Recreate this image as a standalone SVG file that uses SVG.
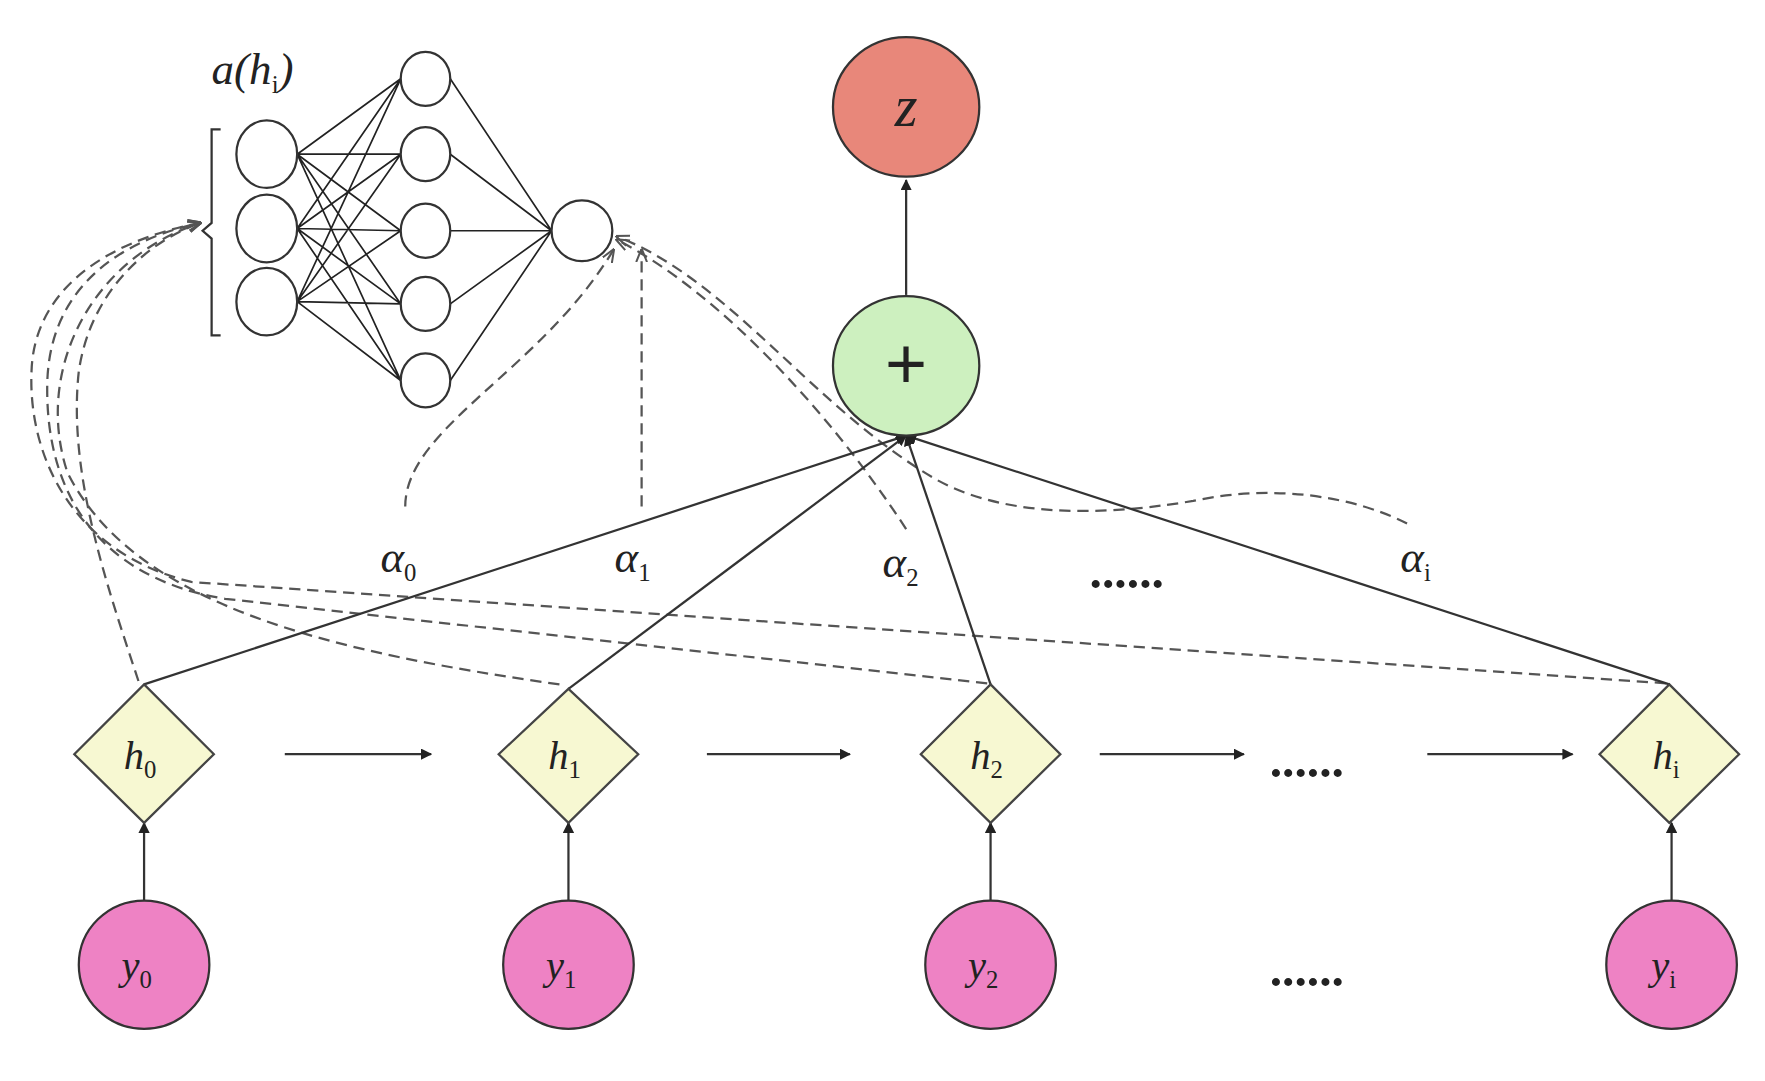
<svg xmlns="http://www.w3.org/2000/svg" width="1765" height="1081" viewBox="0 0 1765 1081">
<defs>
<marker id="ah" viewBox="0 0 10 10" refX="9" refY="5" markerWidth="5" markerHeight="5" orient="auto"><path d="M0,0L10,5L0,10z" fill="#222"/></marker>
<marker id="ad" viewBox="0 0 10 10" refX="9" refY="5" markerWidth="6" markerHeight="6" orient="auto"><path d="M0,1L10,5L0,9" fill="none" stroke="#555" stroke-width="1.5"/></marker>
</defs>
<style>
.n{fill:#fff;stroke:#333;stroke-width:2}
.w{stroke:#222;stroke-width:1.5;fill:none}
.s{stroke:#333;stroke-width:2;fill:none}
.d{stroke:#555;stroke-width:2;fill:none;stroke-dasharray:10 6}
.t{font-family:"Liberation Serif",serif;font-style:italic;fill:#222}
.sub{font-size:22px;font-style:normal}
.dia{fill:#f7f8d2;stroke:#444;stroke-width:2}
.y{fill:#ee82c4;stroke:#333;stroke-width:2}
.dots{font-family:"Liberation Serif",serif;font-size:44px;font-weight:bold;fill:#222}
</style>
<rect width="1765" height="1081" fill="#fff"/>
<g transform="scale(1.12564)">
<g id="connectors">
<g id="net-edges">
<path class="w" d="M264,137L356,70M264,137L356,137M264,137L356,205M264,137L356,270M264,137L356,338M264,203L356,70M264,203L356,137M264,203L356,205M264,203L356,270M264,203L356,338M264,268L356,70M264,268L356,137M264,268L356,205M264,268L356,270M264,268L356,338M400,70L490,205M400,137L490,205M400,205L490,205M400,270L490,205M400,338L490,205"/>
</g>
<path class="d" marker-end="url(#ad)" d="M123,605 C95,520 60,420 70,330 C80,260 130,215 178,198"/>
<path class="d" marker-end="url(#ad)" d="M497,608 C300,580 120,540 60,420 C30,330 80,230 178,198"/>
<path class="d" marker-end="url(#ad)" d="M877,607 L200,532 C80,512 40,430 42,340 C44,260 100,215 178,198"/>
<path class="d" marker-end="url(#ad)" d="M1480,607 L170,517 C60,490 25,400 28,330 C30,260 90,215 178,198"/>
<path class="d" marker-end="url(#ad)" d="M360,450 C360,380 480,330 545,222"/>
<path class="d" marker-end="url(#ad)" d="M570,450 L570,222"/>
<path class="d" marker-end="url(#ad)" d="M805,470 C740,370 640,260 548,213"/>
<path class="d" marker-end="url(#ad)" d="M1250,465 C1200,440 1130,430 1060,445 C1000,455 900,465 830,425 C720,360 650,250 548,210"/>
<path class="s" marker-end="url(#ah)" d="M128,608L805,387"/>
<path class="s" marker-end="url(#ah)" d="M505,612L805,387"/>
<path class="s" marker-end="url(#ah)" d="M880,608L805,387"/>
<path class="s" marker-end="url(#ah)" d="M1483,608L805,387"/>
<path class="s" marker-end="url(#ah)" d="M805,262L805,160"/>
<path class="s" marker-end="url(#ah)" d="M253,670L383,670"/>
<path class="s" marker-end="url(#ah)" d="M628,670L755,670"/>
<path class="s" marker-end="url(#ah)" d="M977,670L1105,670"/>
<path class="s" marker-end="url(#ah)" d="M1268,670L1397,670"/>
<path class="s" marker-end="url(#ah)" d="M128,800L128,731"/>
<path class="s" marker-end="url(#ah)" d="M505,800L505,731"/>
<path class="s" marker-end="url(#ah)" d="M880,800L880,731"/>
<path class="s" marker-end="url(#ah)" d="M1485,800L1485,731"/>
</g>
<g id="net-nodes">
<ellipse class="n" cx="237" cy="137" rx="27" ry="30"/><ellipse class="n" cx="237" cy="203" rx="27" ry="30"/><ellipse class="n" cx="237" cy="268" rx="27" ry="30"/>
<ellipse class="n" cx="378" cy="70" rx="22" ry="24"/><ellipse class="n" cx="378" cy="137" rx="22" ry="24"/><ellipse class="n" cx="378" cy="205" rx="22" ry="24"/><ellipse class="n" cx="378" cy="270" rx="22" ry="24"/><ellipse class="n" cx="378" cy="338" rx="22" ry="24"/>
<ellipse class="n" cx="517" cy="205" rx="27" ry="27"/>
<path class="s" d="M196,115 L188,115 L188,198 L180,205 L188,212 L188,298 L196,298"/>
<text class="t" x="188" y="75" font-size="40">a(h<tspan class="sub" dy="8">i</tspan><tspan dy="-8">)</tspan></text>
</g>
<g id="z"><ellipse cx="805" cy="95" rx="65" ry="62" fill="#e8877a" stroke="#333" stroke-width="2"/><text class="t" x="805" y="112" font-size="52" text-anchor="middle">z</text></g>
<g id="plus"><ellipse cx="805" cy="325" rx="65" ry="62" fill="#cdf0bf" stroke="#333" stroke-width="2"/><text x="805" y="345" font-size="64" font-family="Liberation Sans,sans-serif" text-anchor="middle" fill="#222">+</text></g>
<g id="h0"><path class="dia" d="M128,608L190,670L128,731L66,670z"/><text class="t" x="110" y="683" font-size="36">h<tspan class="sub" dy="8">0</tspan></text></g>
<g id="h1"><path class="dia" d="M505,612L567,670L505,731L443,670z"/><text class="t" x="487" y="683" font-size="36">h<tspan class="sub" dy="8">1</tspan></text></g>
<g id="h2"><path class="dia" d="M880,608L942,670L880,731L818,670z"/><text class="t" x="862" y="683" font-size="36">h<tspan class="sub" dy="8">2</tspan></text></g>
<g id="hi"><path class="dia" d="M1483,608L1545,670L1483,731L1421,670z"/><text class="t" x="1468" y="683" font-size="36">h<tspan class="sub" dy="8">i</tspan></text></g>
<g id="y0"><ellipse class="y" cx="128" cy="857" rx="58" ry="57"/><text class="t" x="108" y="870" font-size="36">y<tspan class="sub" dy="8">0</tspan></text></g>
<g id="y1"><ellipse class="y" cx="505" cy="857" rx="58" ry="57"/><text class="t" x="485" y="870" font-size="36">y<tspan class="sub" dy="8">1</tspan></text></g>
<g id="y2"><ellipse class="y" cx="880" cy="857" rx="58" ry="57"/><text class="t" x="860" y="870" font-size="36">y<tspan class="sub" dy="8">2</tspan></text></g>
<g id="yi"><ellipse class="y" cx="1485" cy="857" rx="58" ry="57"/><text class="t" x="1467" y="870" font-size="36">y<tspan class="sub" dy="8">i</tspan></text></g>
<g id="labels" class="t" font-size="40">
<text x="338" y="508">α<tspan class="sub" dy="8">0</tspan></text>
<text x="546" y="508">α<tspan class="sub" dy="8">1</tspan></text>
<text x="784" y="513">α<tspan class="sub" dy="8">2</tspan></text>
<text x="1244" y="508">α<tspan class="sub" dy="8">i</tspan></text>
</g>
<g class="dots">
<text x="968" y="522">......</text>
<text x="1128" y="690">......</text>
<text x="1128" y="876">......</text>
</g>
</g>
</svg>
